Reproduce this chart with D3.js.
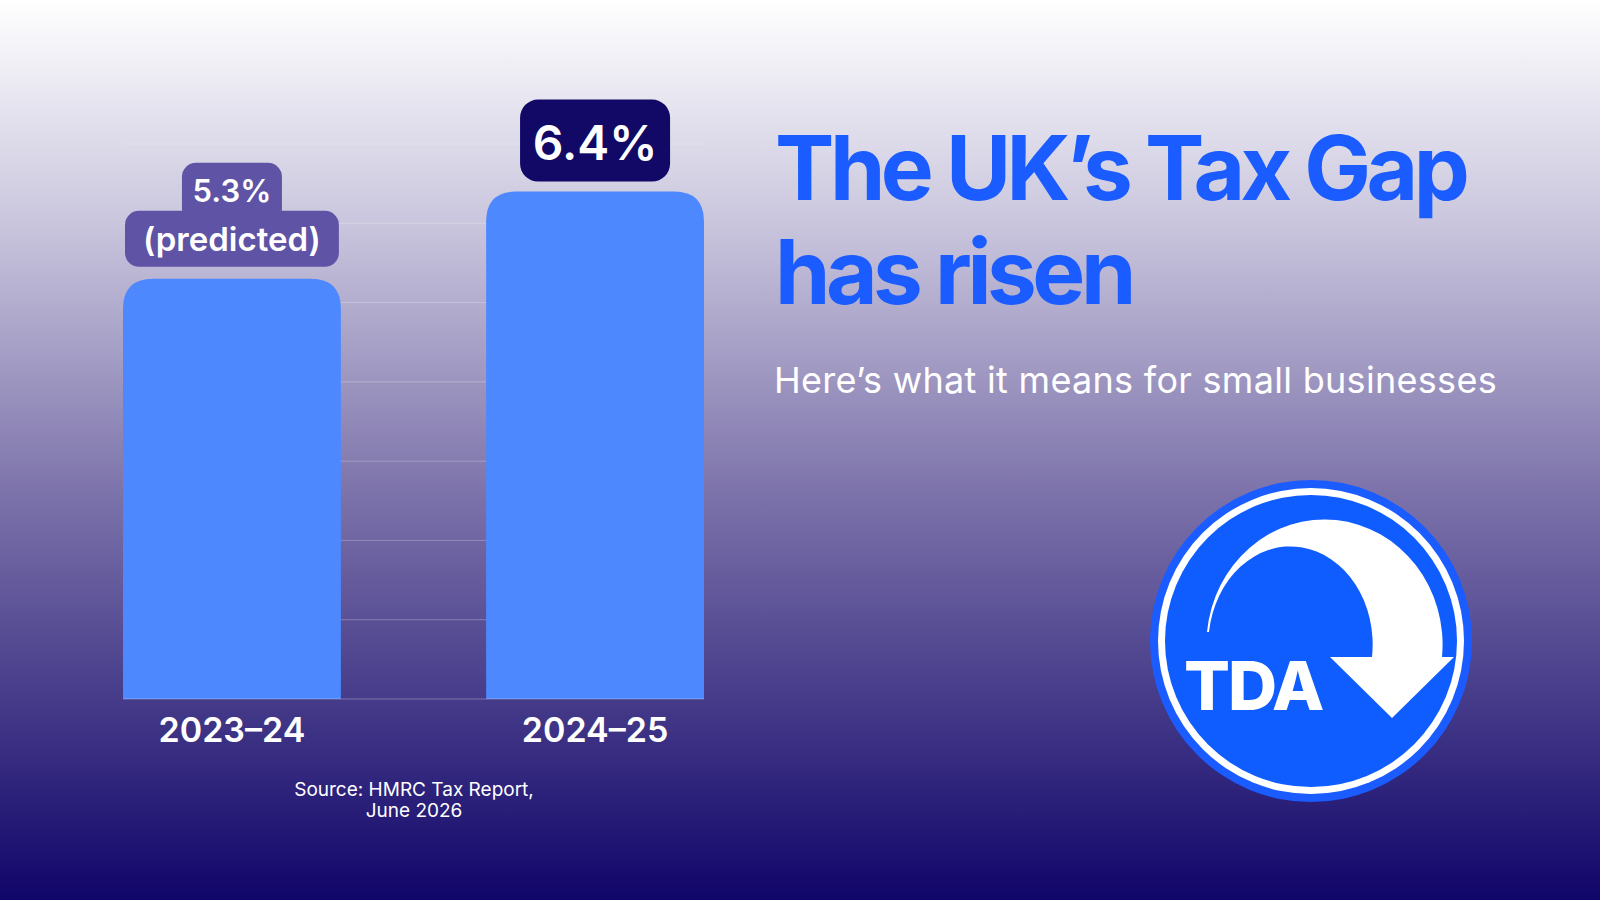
<!DOCTYPE html>
<html><head><meta charset="utf-8">
<script src="https://cdn.jsdelivr.net/npm/d3@7"></script>
<style>body{margin:0;}svg{display:block;}text{font-family:Inter,"Noto Sans",sans-serif;}</style>
</head><body><svg width="1600" height="900"></svg>
<script>
// data
let periods = ["2023-24", "2024-25"];
let gapValues = [5.3, 6.4];
let valueLabels = [["5.3%", "(predicted)"], ["6.4%"]];
let gridTicks = [1, 2, 3, 4, 5, 6, 7];

let svg = d3.select("svg");
let defs = svg.append("defs");
let bg = defs.append("linearGradient").attr("id", "bg").attr("x1", 0).attr("x2", 0).attr("y1", 0).attr("y2", 1);
bg.append("stop").attr("offset", "0").attr("stop-color", "#ffffff");
bg.append("stop").attr("offset", "0.25").attr("stop-color", "#c9c5dd");
bg.append("stop").attr("offset", "0.55").attr("stop-color", "#7c72aa");
bg.append("stop").attr("offset", "1").attr("stop-color", "#100569");
svg.append("rect").attr("width", 1600).attr("height", 900).attr("fill", "url(#bg)");

// scales
let xScale = d3.scaleBand().domain(periods).range([123, 704]).paddingInner(0.4);
let yScale = d3.scaleLinear().domain([0, 7]).range([699, 144]);

// gridlines
svg.append("g").selectAll("line").data(gridTicks).join("line")
	.attr("x1", 123).attr("x2", 704)
	.attr("y1", (d) => yScale(d)).attr("y2", (d) => yScale(d))
	.attr("stroke", "#ffffff").attr("stroke-opacity", 0.25).attr("stroke-width", 1);

// bars with rounded tops
let r = 30;
svg.append("g").selectAll("path").data(gapValues).join("path")
	.attr("d", (d, i) => {
		let x0 = xScale(periods[i]), x1 = x0 + xScale.bandwidth();
		let y0 = yScale(d), yb = yScale(0);
		return `M${x0},${yb}V${y0 + r}Q${x0},${y0} ${x0 + r},${y0}H${x1 - r}Q${x1},${y0} ${x1},${y0 + r}V${yb}Z`;
	})
	.attr("fill", "#4d88ff");

svg.append("line").attr("x1", 123).attr("x2", 704).attr("y1", yScale(0)).attr("y2", yScale(0))
	.attr("stroke", "#ffffff").attr("stroke-opacity", 0.3);

// category labels
svg.append("g").selectAll("text").data(periods).join("text")
	.attr("x", (d) => xScale(d) + xScale.bandwidth() / 2).attr("y", 742)
	.attr("text-anchor", "middle").attr("fill", "#fff").attr("font-size", 34).attr("font-weight", 600)
	.text((d) => d.replace("-", "–"));

// value label boxes
let cx0 = xScale(periods[0]) + xScale.bandwidth() / 2;
let top0 = yScale(gapValues[0]);
let g0 = svg.append("g");
g0.append("rect").attr("x", xScale(periods[0]) + 2).attr("width", xScale.bandwidth() - 4)
	.attr("y", top0 - 68).attr("height", 56).attr("rx", 14).attr("fill", "#5f53a6");
g0.append("rect").attr("x", cx0 - 50).attr("width", 100)
	.attr("y", top0 - 116).attr("height", 60).attr("rx", 14).attr("fill", "#5f53a6");
g0.append("text").attr("x", cx0).attr("y", top0 - 77).attr("text-anchor", "middle")
	.attr("fill", "#fff").attr("font-size", 31).attr("font-weight", 600).text(valueLabels[0][0]);
g0.append("text").attr("x", cx0).attr("y", top0 - 28).attr("text-anchor", "middle")
	.attr("fill", "#fff").attr("font-size", 33).attr("font-weight", 600).text(valueLabels[0][1]);

let cx1 = xScale(periods[1]) + xScale.bandwidth() / 2;
let top1 = yScale(gapValues[1]);
let g1 = svg.append("g");
g1.append("rect").attr("x", cx1 - 75).attr("width", 150).attr("y", top1 - 92).attr("height", 82)
	.attr("rx", 18).attr("fill", "#120866");
g1.append("text").attr("x", cx1).attr("y", top1 - 32).attr("text-anchor", "middle")
	.attr("fill", "#fff").attr("font-size", 48).attr("font-weight", 600).text(valueLabels[1][0]);

// source
let src = svg.append("text").attr("x", 414).attr("text-anchor", "middle").attr("fill", "#fff").attr("font-size", 19);
src.append("tspan").attr("x", 414).attr("y", 796).text("Source: HMRC Tax Report,");
src.append("tspan").attr("x", 414).attr("y", 817).text("June 2026");

// title
svg.append("text").attr("x", 775).attr("y", 200).attr("fill", "#1a5cff").attr("font-size", 89)
	.attr("font-weight", 700).attr("letter-spacing", -4.5).text("The UK’s Tax Gap");
svg.append("text").attr("x", 775).attr("y", 304).attr("fill", "#1a5cff").attr("font-size", 89)
	.attr("font-weight", 700).attr("letter-spacing", -4.5).text("has risen");
svg.append("text").attr("x", 774).attr("y", 393).attr("fill", "#fff").attr("font-size", 36)
	.attr("letter-spacing", 0.3).text("Here’s what it means for small businesses");

// logo
let logo = svg.append("g");
logo.append("circle").attr("cx", 1311).attr("cy", 641).attr("r", 161).attr("fill", "#1a5cff");
logo.append("circle").attr("cx", 1311).attr("cy", 641).attr("r", 153).attr("fill", "#ffffff");
logo.append("circle").attr("cx", 1311).attr("cy", 641).attr("r", 146).attr("fill", "#0f5cff");
logo.append("path")
	.attr("d", "M1207,632 A118,125 0 0 1 1442,657 L1454,657 L1392,718 L1330,657 L1372,657 A82,98 0 0 0 1209,632 Z")
	.attr("fill", "#fff");
logo.append("text").attr("x", 1184).attr("y", 710).attr("fill", "#fff").attr("font-size", 68)
	.attr("font-weight", 800).attr("letter-spacing", -2).text("TDA");
</script></body></html>
